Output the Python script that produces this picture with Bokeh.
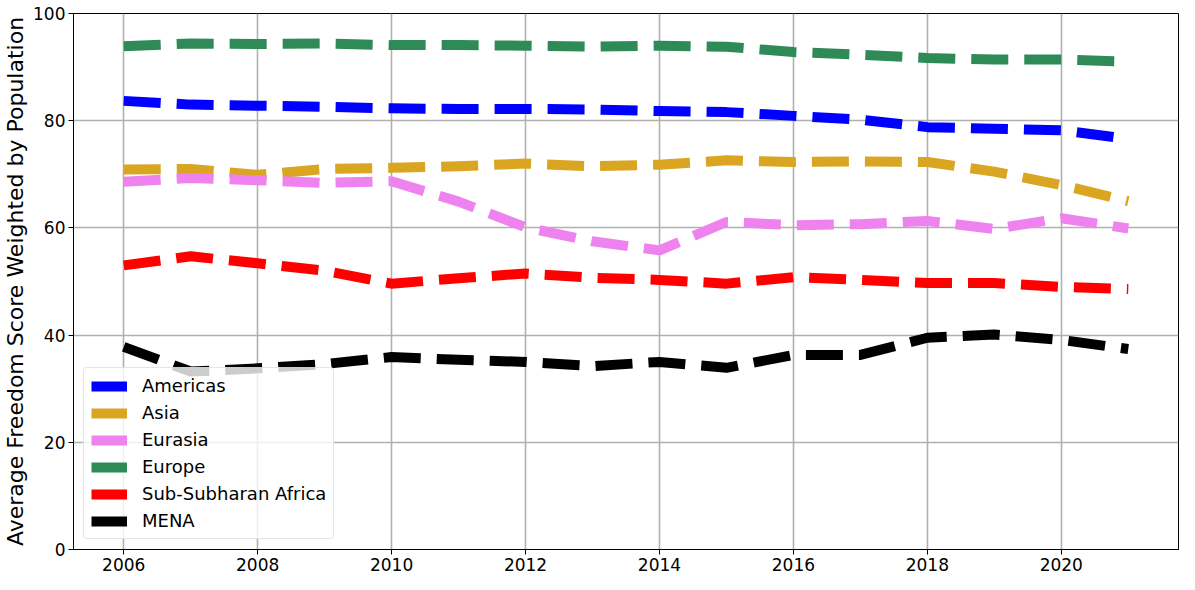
from bokeh.plotting import figure
from bokeh.models import Range1d, FixedTicker, Legend, LegendItem
from bokeh.embed import file_html
from bokeh.resources import INLINE

years = list(range(2006, 2022))

americas = [83.7, 83.0, 82.8, 82.6, 82.3, 82.2, 82.2, 82.1, 81.8, 81.6, 80.9, 80.2, 78.8, 78.5, 78.2, 76.6]
asia = [70.9, 71.0, 69.9, 71.0, 71.2, 71.5, 72.0, 71.5, 71.8, 72.6, 72.3, 72.4, 72.3, 70.5, 68.0, 65.0]
eurasia = [68.6, 69.3, 68.9, 68.4, 68.7, 64.9, 60.1, 57.5, 55.8, 61.1, 60.5, 60.7, 61.3, 59.8, 61.8, 59.9]
europe = [93.9, 94.4, 94.3, 94.4, 94.1, 94.1, 94.0, 93.8, 94.0, 93.8, 92.8, 92.3, 91.7, 91.4, 91.4, 91.0]
ssa = [53.0, 54.7, 53.4, 52.0, 49.6, 50.6, 51.5, 50.7, 50.3, 49.6, 50.8, 50.3, 49.7, 49.7, 49.0, 48.6]
mena = [37.8, 33.2, 33.8, 34.6, 35.9, 35.4, 35.0, 34.2, 35.0, 33.9, 36.3, 36.3, 39.5, 40.1, 39.1, 37.4]

series_names = ["Americas", "Asia", "Eurasia", "Europe", "Sub-Subharan Africa", "MENA"]
series_values = [americas, asia, eurasia, europe, ssa, mena]
series_colors = ["#0000ff", "#daa520", "#ee82ee", "#2e8b57", "#ff0000", "#000000"]

x_ticks = [2006, 2008, 2010, 2012, 2014, 2016, 2018, 2020]
y_ticks = [0, 20, 40, 60, 80, 100]

FONT = "DejaVu Sans"

p = figure(width=1179, height=574, output_backend="svg", toolbar_location=None,
           x_range=Range1d(2005.25, 2021.75), y_range=Range1d(0, 100),
           min_border_left=72, min_border_right=1, min_border_top=13, min_border_bottom=25)

p.outline_line_color = "black"
p.outline_line_width = 1
p.outline_line_alpha = 1

for ax in (p.xaxis[0], p.yaxis[0]):
    ax.axis_line_color = "black"
    ax.major_tick_line_color = "black"
    ax.major_tick_out = 5
    ax.major_tick_in = 0
    ax.minor_tick_line_color = None
    ax.major_label_text_font = FONT
    ax.major_label_text_font_size = "17px"
    ax.major_label_text_color = "black"
    ax.major_label_standoff = 3

p.xaxis[0].ticker = FixedTicker(ticks=x_ticks)
p.yaxis[0].ticker = FixedTicker(ticks=y_ticks)
p.yaxis[0].axis_label = "Average Freedom Score Weighted by Population"
p.yaxis[0].axis_label_text_font = FONT
p.yaxis[0].axis_label_text_font_size = "22px"
p.yaxis[0].axis_label_text_font_style = "normal"
p.yaxis[0].axis_label_text_color = "black"
p.yaxis[0].axis_label_standoff = 2

for g in (p.xgrid[0], p.ygrid[0]):
    g.grid_line_color = "#b0b0b0"
    g.grid_line_width = 1.6
p.xgrid[0].ticker = FixedTicker(ticks=x_ticks)
p.ygrid[0].ticker = FixedTicker(ticks=y_ticks)

items = []
for name, vals, col in zip(series_names, series_values, series_colors):
    r = p.line(years, vals, line_color=col, line_width=10, line_dash="37 16",
               line_join="round", line_cap="butt")
    items.append(LegendItem(label=name, renderers=[r]))

legend = Legend(items=items, location="bottom_left")
legend.margin = 10
legend.padding = 7
legend.spacing = 6
legend.glyph_width = 36
legend.glyph_height = 20
legend.label_height = 20
legend.label_standoff = 15
legend.label_text_font = FONT
legend.label_text_font_size = "18px"
legend.label_text_color = "black"
legend.border_line_color = "#cccccc"
legend.border_line_width = 1
legend.border_radius = 4
legend.background_fill_color = "white"
legend.background_fill_alpha = 0.8
p.add_layout(legend, "center")

open("out.html", "w").write(file_html(p, INLINE))
